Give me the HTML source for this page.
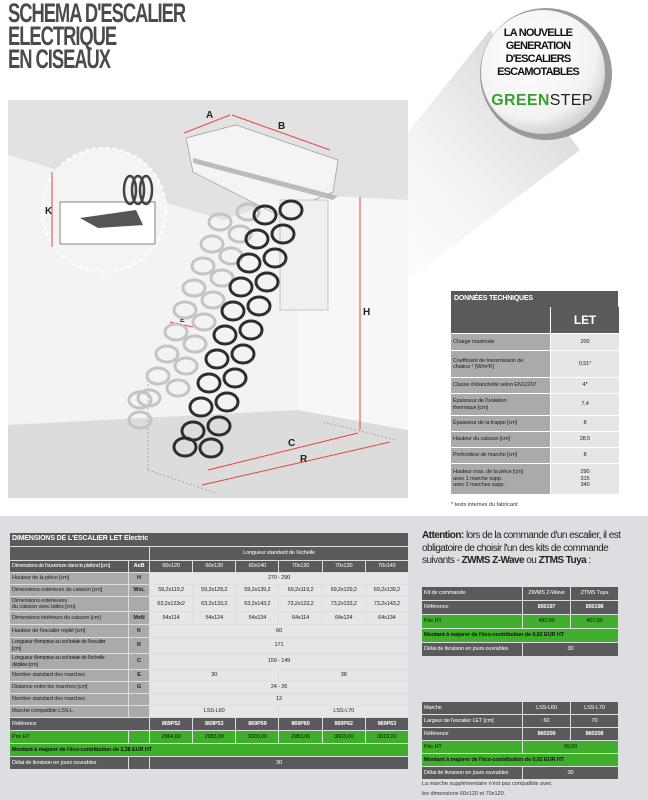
<!DOCTYPE html>
<html><head><meta charset="utf-8">
<style>
*{margin:0;padding:0;box-sizing:border-box}
body{width:648px;height:800px;position:relative;background:#fff;font-family:"Liberation Sans",sans-serif;overflow:hidden}
.abs{position:absolute}
.title{left:8px;top:2px;font-weight:bold;font-size:27px;line-height:23px;color:#4b4b4d;letter-spacing:-1.5px;transform:scaleX(.68);transform-origin:left top}
table{border-collapse:separate;border-spacing:1px;position:absolute;font-size:5.6px;table-layout:fixed;letter-spacing:-.15px}
td{padding:0 2px;overflow:hidden;white-space:nowrap;line-height:6.5px}
.d{background:#5a5a5c;color:#fff}
.l{background:#a9aaac;color:#222}
.v{background:#e6e6e6;color:#222;text-align:center}
.g{background:#3fae2a;color:#111}
.c{text-align:center}
.b{font-weight:bold}
</style></head><body>
<div class="abs title">SCHEMA D'ESCALIER<br>ELECTRIQUE<br>EN CISEAUX</div>

<svg class="abs" style="left:330px;top:0" width="318" height="300">
<defs>
<linearGradient id="sh" x1="1" y1="0" x2="0" y2="1"><stop offset="0" stop-color="#bbb"/><stop offset="1" stop-color="#fff" stop-opacity="0"/></linearGradient>
<radialGradient id="cg" cx=".4" cy=".35" r=".75"><stop offset="0" stop-color="#fff"/><stop offset=".7" stop-color="#f2f2f2"/><stop offset="1" stop-color="#bdbdbd"/></radialGradient>
</defs>
<polygon points="160,30 250,150 78,280 0,300 0,230" fill="url(#sh)" opacity=".8"/>
<circle cx="216" cy="74" r="66" fill="#9a9a9a"/>
<circle cx="213" cy="72" r="62" fill="url(#cg)"/>
</svg>
<div class="abs" style="left:483px;top:27px;width:110px;text-align:center;font-weight:bold;font-size:11px;line-height:13px;color:#111;letter-spacing:-.8px">LA NOUVELLE<br>GENERATION<br>D'ESCALIERS<br>ESCAMOTABLES</div>
<div class="abs" style="left:480px;top:92px;width:124px;text-align:center;font-size:16px;letter-spacing:.3px;color:#222"><b style="color:#3a9f35">GREEN</b>STEP</div>

<svg class="abs" style="left:8px;top:100px" width="400" height="398">
<rect width="400" height="398" fill="#ededed"/>
<polygon points="0,0 400,0 400,100 310,95 215,120 0,55" fill="#e2e2e2"/>
<polygon points="0,55 215,120 290,95 400,100 400,330 290,310 0,325" fill="#f3f3f3"/>
<polygon points="0,325 290,310 400,330 400,398 0,398" fill="#dcdcdc"/>
<polygon points="290,95 290,310 400,330 400,100" fill="#f7f7f7"/>
<polygon points="178,38 228,25 330,60 325,92 270,115 185,72" fill="#f4f4f4" stroke="#999" stroke-width=".7"/>
<polygon points="185,58 330,96 325,100 185,63" fill="#bbb"/>
<rect x="272" y="100" width="48" height="110" fill="#f0f0f0" stroke="#aaa" stroke-width=".6"/>
<g stroke="#e8453c" stroke-width="1" fill="none">
<line x1="176" y1="33" x2="222" y2="15"/><line x1="224" y1="15" x2="322" y2="50"/>
<line x1="352" y1="97" x2="352" y2="330"/>
<line x1="200" y1="370" x2="350" y2="333"/><line x1="194" y1="385" x2="382" y2="342"/>
<line x1="162" y1="222" x2="185" y2="227"/>
</g>
<g font-weight="bold" font-size="10" fill="#222">
<text x="198" y="18">A</text><text x="270" y="29">B</text><text x="355" y="215">H</text>
<text x="280" y="346">C</text><text x="292" y="362">R</text><text x="172" y="222" font-size="7">E</text>
</g>
<g stroke="#888" stroke-dasharray="2,2" stroke-width=".6" fill="none">
<line x1="140" y1="370" x2="140" y2="270"/><line x1="140" y1="370" x2="208" y2="393"/><line x1="315" y1="322" x2="388" y2="340"/>
</g>
<g fill="none" stroke="#c4c4c4" stroke-width="3">
<ellipse cx="240" cy="112" rx="11" ry="8"/><ellipse cx="232" cy="134" rx="11" ry="8"/><ellipse cx="223" cy="156" rx="11" ry="8"/><ellipse cx="214" cy="178" rx="11" ry="8"/><ellipse cx="205" cy="200" rx="11" ry="8"/><ellipse cx="196" cy="222" rx="11" ry="8"/><ellipse cx="187" cy="244" rx="11" ry="8"/><ellipse cx="178" cy="266" rx="11" ry="8"/><ellipse cx="170" cy="288" rx="11" ry="8"/>
<ellipse cx="212" cy="122" rx="11" ry="8"/><ellipse cx="204" cy="144" rx="11" ry="8"/><ellipse cx="195" cy="166" rx="11" ry="8"/><ellipse cx="186" cy="188" rx="11" ry="8"/><ellipse cx="177" cy="210" rx="11" ry="8"/><ellipse cx="168" cy="232" rx="11" ry="8"/><ellipse cx="159" cy="254" rx="11" ry="8"/><ellipse cx="150" cy="276" rx="11" ry="8"/><ellipse cx="141" cy="298" rx="11" ry="8"/><ellipse cx="132" cy="320" rx="11" ry="8"/><ellipse cx="132" cy="300" rx="11" ry="8"/>
</g>
<g fill="none" stroke="#2e2e2e" stroke-width="3">
<ellipse cx="283" cy="110" rx="11" ry="9"/><ellipse cx="275" cy="134" rx="11" ry="9"/><ellipse cx="267" cy="158" rx="11" ry="9"/><ellipse cx="259" cy="182" rx="11" ry="9"/><ellipse cx="251" cy="206" rx="11" ry="9"/><ellipse cx="243" cy="230" rx="11" ry="9"/><ellipse cx="235" cy="254" rx="11" ry="9"/><ellipse cx="227" cy="278" rx="11" ry="9"/><ellipse cx="219" cy="302" rx="11" ry="9"/><ellipse cx="211" cy="326" rx="11" ry="9"/><ellipse cx="203" cy="348" rx="11" ry="9"/>
<ellipse cx="257" cy="115" rx="11" ry="9"/><ellipse cx="249" cy="139" rx="11" ry="9"/><ellipse cx="241" cy="163" rx="11" ry="9"/><ellipse cx="233" cy="187" rx="11" ry="9"/><ellipse cx="225" cy="211" rx="11" ry="9"/><ellipse cx="217" cy="235" rx="11" ry="9"/><ellipse cx="209" cy="259" rx="11" ry="9"/><ellipse cx="201" cy="283" rx="11" ry="9"/><ellipse cx="193" cy="307" rx="11" ry="9"/><ellipse cx="185" cy="331" rx="11" ry="9"/><ellipse cx="177" cy="347" rx="11" ry="9"/>
</g>
<circle cx="96" cy="110" r="62" fill="#f4f4f4" stroke="#fff" stroke-width="2" stroke-dasharray="4,3"/>
<rect x="52" y="102" width="95" height="42" fill="#fff" stroke="#666" stroke-width=".8"/>
<polygon points="72,118 128,110 135,125 90,128" fill="#555"/>
<g fill="none" stroke="#444" stroke-width="2.5"><ellipse cx="122" cy="90" rx="6" ry="14"/><ellipse cx="130" cy="90" rx="6" ry="14"/><ellipse cx="138" cy="90" rx="6" ry="14"/></g>
<text x="37" y="114" font-weight="bold" font-size="10" fill="#222">K</text>
<line x1="44" y1="72" x2="44" y2="147" stroke="#e8453c"/>
</svg>

<div class="abs" style="left:451px;top:291px;width:167px;height:16px;background:#5a5a5c;color:#fff;font-weight:bold;font-size:7px;padding:4px 3px;letter-spacing:-.2px">DONNÉES TECHNIQUES</div>
<table style="left:450px;top:306px;width:169px">
<col style="width:99px"><col style="width:68px">
<tr style="height:26px"><td class="d"></td><td class="d c b" style="font-size:12px">LET</td></tr>
<tr style="height:16px"><td class="l">Charge maximale</td><td class="v">200</td></tr>
<tr style="height:26px"><td class="l">Coefficient de transmission de<br>chaleur ¹ [W/m²K]</td><td class="v">0,51*</td></tr>
<tr style="height:15px"><td class="l">Classe d'étanchéité selon EN12207</td><td class="v">4*</td></tr>
<tr style="height:21px"><td class="l">Épaisseur de l'isolation<br>thermique [cm]</td><td class="v">7,4</td></tr>
<tr style="height:15px"><td class="l">Épaisseur de la trappe [cm]</td><td class="v">8</td></tr>
<tr style="height:15px"><td class="l">Hauteur du caisson [cm]</td><td class="v">28,5</td></tr>
<tr style="height:15px"><td class="l">Profondeur de marche [cm]</td><td class="v">8</td></tr>
<tr style="height:30px"><td class="l">Hauteur max. de la pièce [cm]<br>avec 1 marche supp.<br>avec 2 marches supp.</td><td class="v">290<br>315<br>340</td></tr>
</table>
<div class="abs" style="left:451px;top:502px;font-size:5.5px;color:#333">* tests internes du fabricant</div>

<div class="abs" style="left:0;top:516px;width:648px;height:284px;background:#dcdee1"></div>

<table style="left:9px;top:532px;width:400px">
<col style="width:118px"><col style="width:20px"><col><col><col><col><col><col>
<tr style="height:13px"><td class="d b" colspan="8" style="font-size:7px">DIMENSIONS DE L'ESCALIER LET Electric</td></tr>
<tr style="height:13px"><td class="d" colspan="2"></td><td class="d c" colspan="6">Longueur standard de l'échelle</td></tr>
<tr style="height:11px"><td class="d" style="letter-spacing:-.4px">Dimensions de l'ouverture dans le plafond [cm]</td><td class="d c b">AxB</td><td class="d c">60x120</td><td class="d c">60x130</td><td class="d c">60x140</td><td class="d c">70x120</td><td class="d c">70x130</td><td class="d c">70x140</td></tr>
<tr style="height:11px"><td class="l">Hauteur de la pièce [cm]</td><td class="l c b">H</td><td class="v" colspan="6">270 - 290</td></tr>
<tr style="height:11px"><td class="l">Dimensions extérieurs du caisson [cm]</td><td class="l c b">WxL</td><td class="v">59,2x119,2</td><td class="v">59,2x129,2</td><td class="v">59,2x139,2</td><td class="v">69,2x119,2</td><td class="v">69,2x129,2</td><td class="v">69,2x139,2</td></tr>
<tr style="height:14px"><td class="l">Dimensions extérieures<br>du caisson avec lattes [cm].</td><td class="l"></td><td class="v">63,2x123x2</td><td class="v">63,2x133,2</td><td class="v">63,2x143,2</td><td class="v">73,2x123,2</td><td class="v">73,2x133,2</td><td class="v">73,2x143,2</td></tr>
<tr style="height:12px"><td class="l">Dimensions intérieurs du caisson [cm]</td><td class="l c b">MxN</td><td class="v">54x114</td><td class="v">54x124</td><td class="v">54x134</td><td class="v">64x114</td><td class="v">64x124</td><td class="v">64x134</td></tr>
<tr style="height:12px"><td class="l">Hauteur de l'escalier replié [cm]</td><td class="l c b">K</td><td class="v" colspan="6">60</td></tr>
<tr style="height:15px"><td class="l" style="letter-spacing:-.4px">Longueur d'emprise au sol totale de l'escalier<br>[cm]</td><td class="l c b">R</td><td class="v" colspan="6">171</td></tr>
<tr style="height:15px"><td class="l" style="letter-spacing:-.4px">Longueur d'emprise au sol totale de l'échelle<br>dépliée [cm]</td><td class="l c b">C</td><td class="v" colspan="6">159 - 149</td></tr>
<tr style="height:11px"><td class="l">Nombre standard des marches</td><td class="l c b">E</td><td class="v" colspan="3">30</td><td class="v" colspan="3">38</td></tr>
<tr style="height:11px"><td class="l">Distance entre les marches [cm]</td><td class="l c b">G</td><td class="v" colspan="6">24 - 26</td></tr>
<tr style="height:11px"><td class="l">Nombre standard des marches</td><td class="l"></td><td class="v" colspan="6">12</td></tr>
<tr style="height:11px"><td class="l">Marche compatible LSS-L</td><td class="l"></td><td class="v" colspan="3">LSS-L60</td><td class="v" colspan="3">LSS-L70</td></tr>
<tr style="height:12px"><td class="d" colspan="2">Référence</td><td class="d c b">869P52</td><td class="d c b">869P53</td><td class="d c b">869P59</td><td class="d c b">869P60</td><td class="d c b">869P62</td><td class="d c b">869P63</td></tr>
<tr style="height:12px"><td class="g">Prix HT</td><td class="g"></td><td class="g c">2964,00</td><td class="g c">2983,00</td><td class="g c">3003,00</td><td class="g c">2983,00</td><td class="g c">3003,00</td><td class="g c">3023,00</td></tr>
<tr style="height:12px"><td class="g b" colspan="8">Montant à majorer de l'éco-contribution de 2,38 EUR HT</td></tr>
<tr style="height:12px"><td class="d">Délai de livraison en jours ouvrables</td><td class="d"></td><td class="d c" colspan="6">30</td></tr>
</table>

<div class="abs" style="left:422px;top:530px;width:220px;font-size:10px;line-height:12.5px;color:#222;letter-spacing:-.55px"><b>Attention:</b> lors de la commande d'un escalier, il est obligatoire de choisir l'un des kits de commande suivants - <b>ZWMS Z-Wave</b> ou <b>ZTMS Tuya</b> :</div>

<table style="left:421px;top:586px;width:198px">
<col style="width:100px"><col><col>
<tr style="height:13px"><td class="d">Kit de commande</td><td class="d c">ZWMS Z-Wave</td><td class="d c">ZTMS Tuya</td></tr>
<tr style="height:13px"><td class="d">Référence</td><td class="d c b">850197</td><td class="d c b">850198</td></tr>
<tr style="height:13px"><td class="g">Prix HT</td><td class="g c">482,00</td><td class="g c">407,00</td></tr>
<tr style="height:13px"><td class="g b" colspan="3">Montant à majorer de l'éco-contribution de 0,02 EUR HT</td></tr>
<tr style="height:13px"><td class="d">Délai de livraison en jours ouvrables</td><td class="d c" colspan="2">30</td></tr>
</table>

<table style="left:421px;top:701px;width:198px">
<col style="width:100px"><col><col>
<tr style="height:12px"><td class="d">Marche</td><td class="d c">LSS-L60</td><td class="d c">LSS-L70</td></tr>
<tr style="height:12px"><td class="d">Largeur de l'escalier LET [cm]</td><td class="d c">60</td><td class="d c">70</td></tr>
<tr style="height:12px"><td class="d">Référence</td><td class="d c b">860209</td><td class="d c b">860208</td></tr>
<tr style="height:12px"><td class="g">Prix HT</td><td class="g c" colspan="2">59,00</td></tr>
<tr style="height:12px"><td class="g b" colspan="3">Montant à majorer de l'éco-contribution de 0,02 EUR HT</td></tr>
<tr style="height:12px"><td class="d">Délai de livraison en jours ouvrables</td><td class="d c" colspan="2">30</td></tr>
</table>
<div class="abs" style="left:422px;top:779px;font-size:5.5px;line-height:10px;color:#333">La marche supplémentaire n'est pas compatible avec<br>les dimensions 60x120 et 70x120.</div>
</body></html>
